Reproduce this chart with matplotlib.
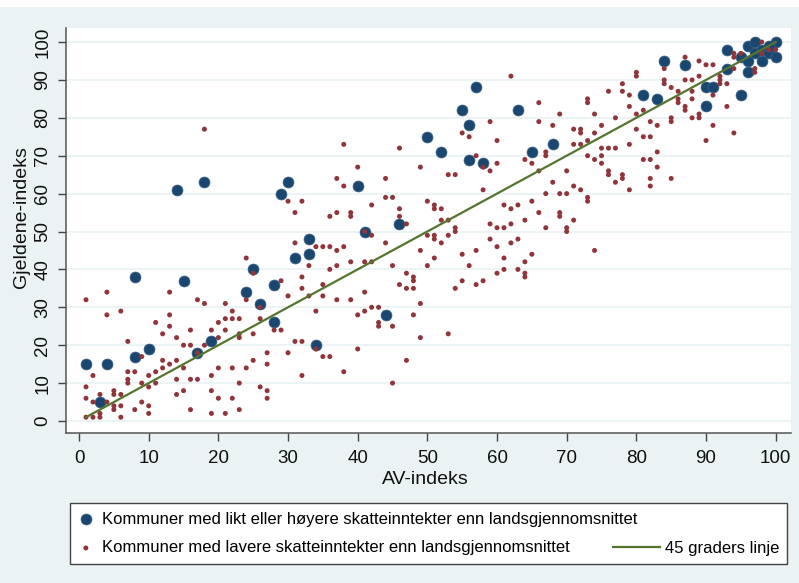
import matplotlib
matplotlib.use("Agg")
import matplotlib.pyplot as plt
from matplotlib.patches import Rectangle

# Kommuner med likt eller hoyere skatteinntekter (AV-indeks, Gjeldene-indeks)
blaa_x = [1, 4, 3, 8, 10, 8, 15, 17, 19, 24, 25, 26, 28, 28, 31, 33, 33, 34,
          14, 18, 29, 30, 40, 41, 44, 46, 50, 52, 55, 56, 57, 56, 58, 63, 65, 68,
          81, 83, 84, 87, 90, 90, 91, 93, 93, 95, 96, 95, 96, 97, 96, 97, 98, 98,
          99, 100, 100, 99]
blaa_y = [15, 15, 5, 17, 19, 38, 37, 18, 21, 34, 40, 31, 36, 26, 43, 48, 44, 20,
          61, 63, 60, 63, 62, 50, 28, 52, 75, 71, 82, 78, 88, 69, 68, 82, 71, 73,
          86, 85, 95, 94, 88, 83, 88, 93, 98, 86, 92, 96, 99, 100, 95, 97, 95, 98,
          97, 100, 96, 99]

# Kommuner med lavere skatteinntekter
rod_punkter = [
    (30, 58), (32, 58), (31, 55), (36, 54), (37, 55), (39, 55), (39, 54), (31, 47),
    (34, 46), (35, 46), (36, 46), (38, 46), (37, 45), (33, 41), (37, 41), (36, 40),
    (39, 42), (32, 38), (29, 37), (32, 35), (33, 33), (30, 33), (35, 36), (35, 33),
    (37, 32), (39, 32), (34, 29), (40, 28), (24, 43), (25, 39), (24, 32), (26, 30),
    (26, 27), (25, 23), (28, 24), (29, 24), (27, 18), (27, 15), (30, 18), (31, 21),
    (32, 21), (32, 12), (34, 19), (35, 17), (36, 17), (38, 13), (40, 19), (26, 9),
    (27, 8), (27, 6), (23, 3), (23, 10), (22, 6), (21, 2), (20, 6), (19, 2), (22, 14),
    (24, 14), (25, 16), (21, 31), (22, 29), (21, 27), (22, 27), (23, 27), (20, 26),
    (19, 24), (21, 24), (20, 22), (23, 22), (23, 23), (18, 20), (19, 12), (20, 14),
    (19, 8), (16, 24), (16, 20), (15, 20), (17, 32), (18, 31), (13, 34), (13, 28),
    (13, 25), (12, 23), (14, 22), (15, 14), (14, 16), (13, 15), (12, 16), (12, 14),
    (16, 11), (17, 11), (14, 11), (15, 8), (14, 7), (16, 3), (11, 26), (11, 13),
    (11, 10), (10, 12), (10, 9), (9, 17), (9, 10), (9, 5), (10, 4), (10, 2), (8, 13),
    (7, 13), (7, 11), (7, 10), (7, 21), (6, 29), (8, 3), (6, 7), (6, 4), (6, 1),
    (5, 8), (5, 7), (5, 4), (5, 3), (4, 34), (4, 28), (4, 5), (3, 7), (3, 2), (3, 1),
    (2, 12), (2, 5), (2, 1), (1, 32), (1, 9), (1, 6), (1, 1), (17, 18),
    (18, 77), (38, 73), (40, 67), (37, 64), (38, 62),
    (42, 57), (46, 56), (46, 54), (47, 52), (50, 58), (51, 57), (51, 56), (52, 56),
    (52, 53), (53, 53), (54, 51), (54, 50), (50, 49), (51, 49), (51, 48), (52, 47),
    (53, 49), (49, 45), (51, 43), (50, 41), (42, 49), (44, 47), (41, 42), (42, 42),
    (45, 41), (47, 39), (48, 38), (48, 37), (46, 36), (47, 35), (48, 35), (41, 34),
    (49, 31), (42, 30), (43, 30), (41, 29), (43, 26), (43, 25), (45, 25), (48, 28),
    (49, 22), (53, 23), (47, 16), (45, 10), (54, 35), (55, 37), (57, 36), (58, 37),
    (56, 41), (55, 44), (57, 45), (59, 52), (60, 51), (61, 51), (62, 52), (61, 57),
    (62, 56), (63, 57), (65, 58), (64, 53), (66, 55), (69, 55), (69, 54), (71, 53),
    (67, 51), (70, 51), (70, 50), (59, 48), (60, 46), (62, 47), (63, 48), (61, 43),
    (64, 42), (65, 44), (60, 39), (61, 40), (63, 40), (64, 39), (64, 38), (74, 45),
    (73, 58), (41, 50),
    (44, 64), (44, 59), (45, 59), (46, 72), (49, 67), (53, 65), (54, 65), (55, 76),
    (56, 75), (57, 70), (58, 67), (59, 66), (58, 61), (59, 79), (60, 74), (60, 68),
    (62, 91), (64, 69), (65, 68), (66, 66), (66, 79), (66, 84), (67, 71), (67, 70),
    (68, 78), (69, 81), (68, 63), (67, 60), (69, 60), (70, 60), (70, 66), (71, 62),
    (71, 77), (72, 77), (72, 76), (71, 73), (72, 73), (73, 85), (73, 84), (73, 74),
    (73, 70), (74, 69), (74, 81), (75, 78), (75, 72), (76, 72), (77, 72), (75, 70),
    (75, 68), (74, 76), (72, 61), (73, 59), (76, 66), (76, 65), (77, 63), (78, 65),
    (78, 64), (79, 61), (76, 87), (78, 89), (78, 87), (77, 80), (79, 86), (79, 83),
    (79, 73), (80, 92), (80, 91), (80, 81), (80, 77), (81, 82), (81, 75), (82, 75),
    (81, 69), (82, 69), (82, 79), (83, 78), (82, 64), (82, 62), (83, 71), (83, 67),
    (85, 64), (84, 93), (84, 90), (84, 89), (85, 88), (86, 87), (86, 85), (86, 84),
    (85, 80), (85, 79), (87, 96), (87, 90), (87, 83), (87, 82), (88, 90), (88, 87),
    (88, 85), (88, 80), (89, 95), (89, 91), (89, 81), (89, 80), (90, 94), (91, 94),
    (90, 74), (91, 78), (91, 86), (92, 91), (92, 90), (92, 89), (93, 89), (93, 83),
    (94, 76), (94, 93), (94, 97), (94, 96), (95, 97), (97, 92), (97, 93), (98, 100),
    (99, 98), (100, 98), (98, 97),
]
rod_x = [p[0] for p in rod_punkter]
rod_y = [p[1] for p in rod_punkter]

# 45 graders linje
linje_x = [1, 100]
linje_y = [1, 100]

ticks = list(range(0, 101, 10))

BG = "#eaf2f3"
BLAA = "#1a476f"
ROD = "#90353b"
GRONN = "#55752f"

fig = plt.figure(figsize=(7.99, 5.83), dpi=100, facecolor=BG)
fig.patches.append(Rectangle((0, 1 - 7 / 583), 1, 7 / 583, transform=fig.transFigure,
                             facecolor="white", edgecolor="none", zorder=-1))
ax = fig.add_axes([66 / 799, 1 - 433 / 583, 725 / 799, 405 / 583])
ax.set_facecolor("white")

s1 = ax.scatter(blaa_x, blaa_y, s=62, color=BLAA, edgecolors="#3d6386", linewidths=0.5, zorder=3,
                label="Kommuner med likt eller høyere skatteinntekter enn landsgjennomsnittet")
s2 = ax.scatter(rod_x, rod_y, s=13, color=ROD, edgecolors="none", zorder=4,
                label="Kommuner med lavere skatteinntekter enn landsgjennomsnittet")
l1, = ax.plot(linje_x, linje_y, color=GRONN, lw=1.6, zorder=5, label="45 graders linje")

ax.set_xlim(-1.87, 102.2)
ax.set_ylim(-3.17, 103.7)
ax.set_xticks(ticks)
ax.set_yticks(ticks)
ax.yaxis.grid(True, color=BG, lw=1.3)
ax.set_axisbelow(True)
for side in ["top", "right"]:
    ax.spines[side].set_visible(False)
for side in ["left", "bottom"]:
    ax.spines[side].set_color("#555555")
    ax.spines[side].set_linewidth(1.1)
ax.tick_params(axis="both", direction="out", length=5.5, width=1, color="#444444",
               labelsize=13.5, labelcolor="#111111")
ax.tick_params(axis="x", pad=7)
ax.tick_params(axis="y", pad=5, labelrotation=90)
for lab in ax.get_yticklabels():
    lab.set_va("center")

fig.text(425 / 799, 1 - 479 / 583, "AV-indeks", ha="center", va="center",
         fontsize=14, family="Liberation Sans", color="#111111")
fig.text(22 / 799, 1 - 217 / 583, "Gjeldene-indeks", ha="center", va="center",
         rotation=90, fontsize=14, family="Liberation Sans", color="#111111")

# legenden: markorer i en boks, linja nede til hoyre
leg_font = {"family": "Liberation Sans", "size": 12}
leg1 = fig.legend(handles=[s1, s2], loc="center", mode="expand", ncol=1,
                  bbox_to_anchor=(70 / 799, 1 - 567 / 583, 717 / 799, 67 / 583),
                  bbox_transform=fig.transFigure, prop=leg_font, frameon=True,
                  fancybox=False, edgecolor="#444444", framealpha=1,
                  handlelength=0.9, handletextpad=0.5, labelspacing=0.82,
                  borderpad=0.5, borderaxespad=0, scatterpoints=1)
leg1.get_frame().set_linewidth(1.0)
leg2 = fig.legend(handles=[l1], loc="center right",
                  bbox_to_anchor=(779 / 799, 1 - 548 / 583),
                  bbox_transform=fig.transFigure, prop=leg_font, frameon=False,
                  handlelength=2.8, handletextpad=0.3, borderpad=0, borderaxespad=0)

for t in ax.get_xticklabels() + ax.get_yticklabels():
    t.set_family("Liberation Sans")

fig.savefig("out.png", dpi=100, facecolor=BG)
